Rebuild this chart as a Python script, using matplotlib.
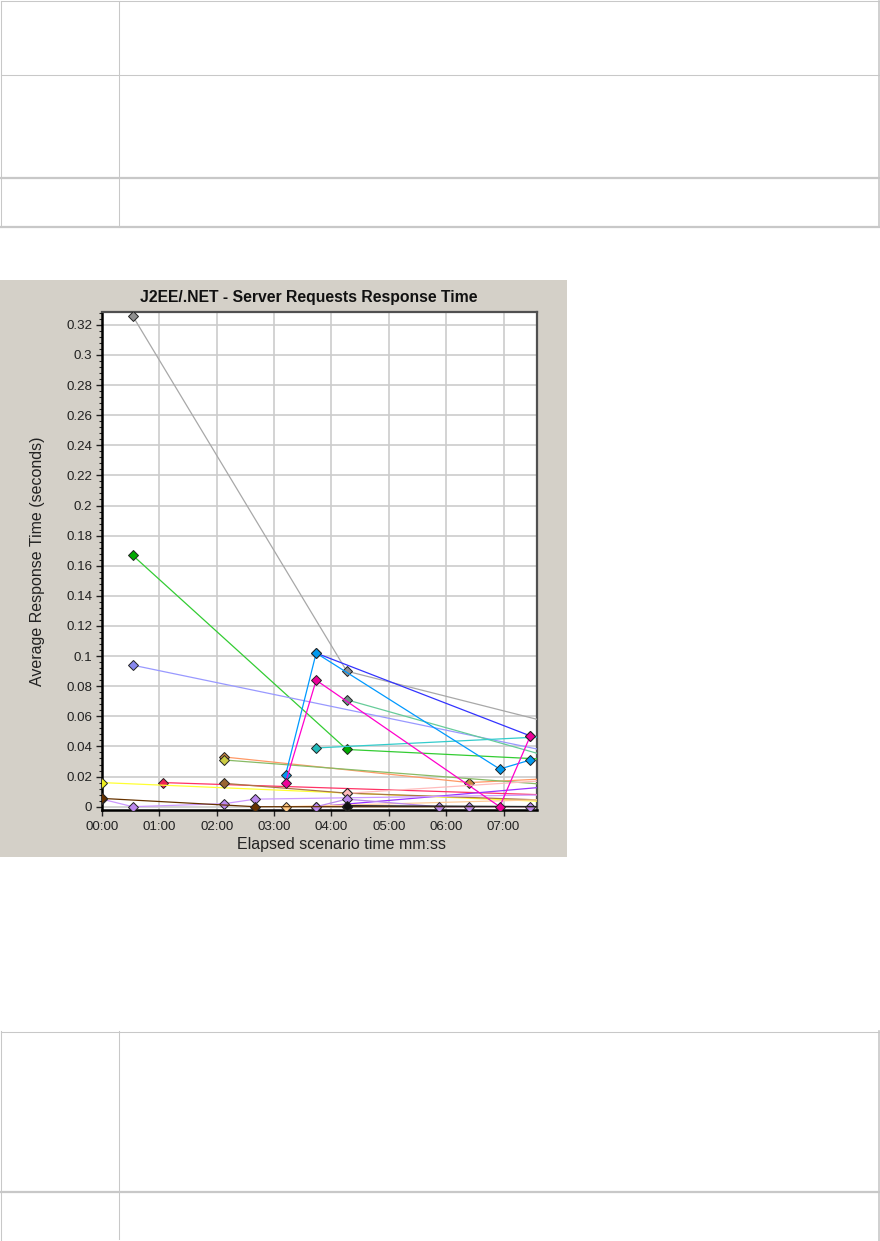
import matplotlib
matplotlib.use("Agg")
import matplotlib.pyplot as plt
from matplotlib.lines import Line2D
from matplotlib.patches import Rectangle
from matplotlib.ticker import FuncFormatter, MultipleLocator

W, H = 880, 1241

# elapsed time in seconds, response time in seconds
gray_t = [32, 256, 480]
gray_v = [0.326, 0.090, 0.054]
green_t = [32, 256, 480]
green_v = [0.167, 0.038, 0.031]
periwinkle_t = [32, 480]
periwinkle_v = [0.094, 0.035]
blue_t = [224, 448]
blue_v = [0.102, 0.047]
sky_t = [192, 224, 416, 448]
sky_v = [0.021, 0.102, 0.025, 0.031]
magenta_t = [192, 224, 416, 448]
magenta_v = [0.016, 0.084, 0.0, 0.047]
seagreen_t = [256, 480]
seagreen_v = [0.071, 0.031]
cyan_t = [224, 480]
cyan_v = [0.039, 0.047]
orange_t = [128, 384, 480]
orange_v = [0.033, 0.016, 0.019]
olive_t = [128, 480]
olive_v = [0.031, 0.014]
red_t = [64, 480]
red_v = [0.016, 0.0075]
yellow_t = [0, 480]
yellow_v = [0.016, 0.003]
brown_t = [128, 256, 480]
brown_v = [0.0155, 0.009, 0.004]
pink_t = [256, 480]
pink_v = [0.0089, 0.018]
purple_t = [224, 480]
purple_v = [0.0, 0.014]
lavender_t = [0, 32, 128, 160, 480]
lavender_v = [0.005, 0.0, 0.002, 0.005, 0.008]
lilac_t = [224, 256, 352, 384, 448]
lilac_v = [0.0, 0.005, 0.0, 0.0, 0.0]
darkbrown_t = [0, 160, 256, 480]
darkbrown_v = [0.0055, 0.0, 0.0, 0.0]
tan_t = [192, 480]
tan_v = [0.0, 0.005]
black_t = [256, 480]
black_v = [0.0007, 0.0]

# (t, v, line colour, marker colour)
series = [
    (gray_t, gray_v, "#a8a8a8", "#909090"),
    (green_t, green_v, "#33cc33", "#00aa00"),
    (periwinkle_t, periwinkle_v, "#9999ff", "#8888ee"),
    (seagreen_t, seagreen_v, "#66cc99", "#6f8f88"),
    (cyan_t, cyan_v, "#33cccc", "#22bbbb"),
    (orange_t, orange_v, "#ff9966", "#cc8844"),
    (olive_t, olive_v, "#88bb66", "#cccc44"),
    (red_t, red_v, "#ff3366", "#ee2255"),
    (yellow_t, yellow_v, "#ffff33", "#eeee22"),
    (brown_t, brown_v, "#aa7744", "#996633"),
    (pink_t, pink_v, "#ffbbbb", "#ffbbbb"),
    (purple_t, purple_v, "#9933ff", "#bb88ee"),
    (tan_t, tan_v, "#ffcc99", "#ffcc88"),
    (lavender_t, lavender_v, "#cc99ff", "#bb88ee"),
    (lilac_t, lilac_v, "#bb88ee", "#bb88ee"),
    (darkbrown_t, darkbrown_v, "#663300", "#663300"),
    (black_t, black_v, "#222222", "#111111"),
    (blue_t, blue_v, "#3333ff", "#3333ff"),
    (sky_t, sky_v, "#0099ff", "#0099ee"),
    (magenta_t, magenta_v, "#ff00cc", "#ee0099"),
]

x_ticks = [0, 60, 120, 180, 240, 300, 360, 420]
y_ticks = [i * 0.02 for i in range(17)]

plt.rcParams["font.family"] = ["Liberation Sans", "DejaVu Sans"]

fig = plt.figure(figsize=(W / 100, H / 100), dpi=100)
fig.patch.set_facecolor("white")


def fx(x):
    return x / W


def fy(y):
    return 1 - y / H


def hline(y, x0, x1, lw=0.75, color="#c8c8c8"):
    fig.add_artist(Line2D([fx(x0), fx(x1)], [fy(y), fy(y)], transform=fig.transFigure,
                          color=color, lw=lw))


def vline(x, y0, y1, lw=0.75, color="#c8c8c8"):
    fig.add_artist(Line2D([fx(x), fx(x)], [fy(y0), fy(y1)], transform=fig.transFigure,
                          color=color, lw=lw))


# empty tables above and below the chart
hline(1, 1, 879)
hline(75, 1, 879)
hline(178, 1, 879, lw=1.6)
hline(226.5, 1, 879, lw=1.6)
vline(1, 1, 227)
vline(118.5, 1, 227)
vline(878.5, 1, 227, lw=1.2)

hline(1031.5, 1, 879)
hline(1191.5, 1, 879, lw=1.6)
vline(1, 1031, 1241)
vline(118.5, 1031, 1239)
vline(878.5, 1031, 1241, lw=1.2)

# gray chart panel
fig.add_artist(Rectangle((0, fy(857)), fx(567), fy(280) - fy(857), transform=fig.transFigure,
                         facecolor="#d4d0c8", edgecolor="none", zorder=0))

ax = fig.add_axes([fx(102), fy(810), fx(537) - fx(102), fy(312) - fy(810)])
ax.set_facecolor("white")

for t, v, lc, mc in series:
    ax.plot(t, v, color=lc, lw=0.9, marker="D", markersize=5, markerfacecolor=mc,
            markeredgecolor="#222222", markeredgewidth=0.7, clip_on=True, zorder=3)

ax.set_xlim(0, 455)
ax.set_ylim(-0.0022, 0.3285)
ax.set_xticks(x_ticks)
ax.xaxis.set_major_formatter(FuncFormatter(lambda s, p: "%02d:%02d" % (s // 60, s % 60)))
ax.set_yticks(y_ticks)
ax.yaxis.set_major_formatter(FuncFormatter(lambda v, p: "%g" % round(v, 2)))
ax.yaxis.set_minor_locator(MultipleLocator(0.004))

ax.grid(True, which="major", color="#cccccc", lw=1.2, zorder=0)
ax.set_axisbelow(True)

for side in ["left", "bottom"]:
    ax.spines[side].set_color("black")
    ax.spines[side].set_linewidth(1.8)
for side in ["top", "right"]:
    ax.spines[side].set_color("#505050")
    ax.spines[side].set_linewidth(1.6)

ax.tick_params(axis="both", which="major", labelsize=9.6, colors="#222222", length=4, width=1)
ax.tick_params(axis="y", which="minor", length=2.5, width=0.8, color="#222222")
ax.tick_params(axis="x", pad=4)
ax.tick_params(axis="y", pad=3)

fig.text(fx(341), fy(844), "Elapsed scenario time mm:ss", ha="center", va="center",
         fontsize=11.5, color="#222222")
fig.text(fx(37.5), fy(561), "Average Response Time (seconds)", ha="center", va="center",
         rotation=90, fontsize=11.5, color="#222222")
fig.text(fx(308.5), fy(297), "J2EE/.NET - Server Requests Response Time", ha="center",
         va="center", fontsize=11.3, fontweight="bold", color="#111111")

fig.savefig("out.png", dpi=100)
